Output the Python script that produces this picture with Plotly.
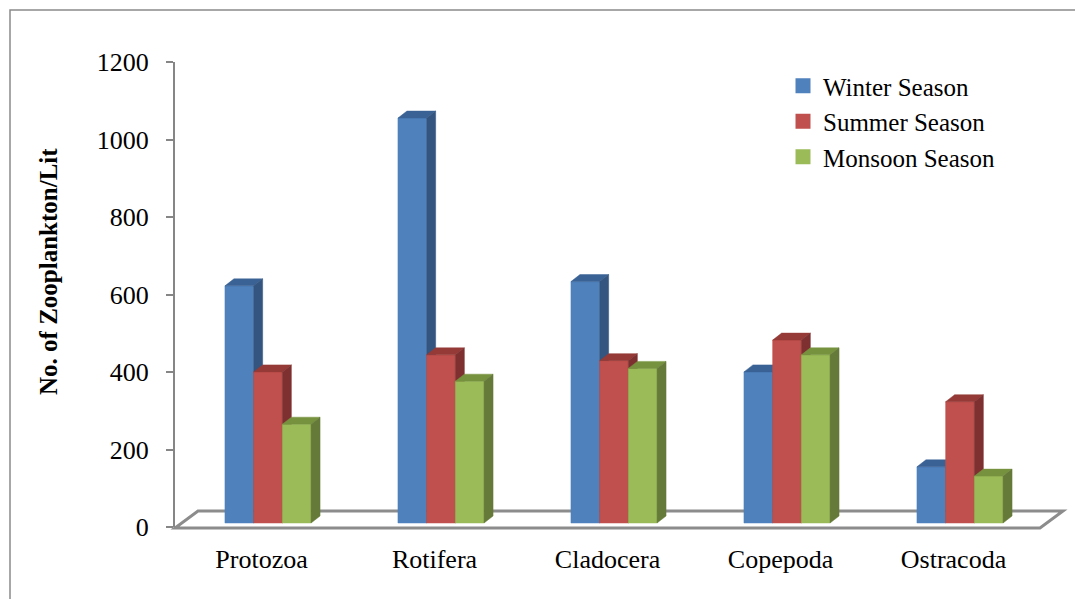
import plotly.graph_objects as go

categories = ["Protozoa", "Rotifera", "Cladocera", "Copepoda", "Ostracoda"]
series_names = ["Winter Season", "Summer Season", "Monsoon Season"]
winter = [612, 1045, 623, 390, 145]
summer = [390, 434, 419, 472, 313]
monsoon = [255, 366, 399, 434, 121]
y_ticks = [0, 200, 400, 600, 800, 1000, 1200]

series_values = [winter, summer, monsoon]
front_colors = ["#4F81BD", "#C0504D", "#9BBB59"]
top_colors = ["#3B6295", "#953A37", "#77923F"]
side_colors = ["#33557F", "#7D302F", "#657A38"]

W, H = 1075, 599
L, R, T, B = 175, 1063, 62, 527          # plot area in px
cat_px = 173.0                            # px per category
x0 = -0.5
x1 = x0 + (R - L) / cat_px
ymax = 1200
ky = (B - T) / ymax                       # px per value unit

# 3D geometry (pixels -> data units)
bar_w = 28.7 / cat_px
shift = 6.5 / cat_px
base = 4 / ky
ddx = 9 / cat_px
ddy = 7 / ky

fig = go.Figure()

for j, vals in enumerate(series_values):
    fx, fy, tx, ty, sx, sy = [], [], [], [], [], []
    for i, v in enumerate(vals):
        xl = i + shift - 1.5 * bar_w + j * bar_w
        xr = xl + bar_w
        top = base + v
        fx += [xl, xr, xr, xl, xl, None]
        fy += [base, base, top, top, base, None]
        tx += [xl, xr, xr + ddx, xl + ddx, xl, None]
        ty += [top, top, top + ddy, top + ddy, top, None]
        sx += [xr, xr, xr + ddx, xr + ddx, xr, None]
        sy += [base, top, top + ddy, base + ddy, base, None]
    for xs, ys, col in ((fx, fy, front_colors[j]), (tx, ty, top_colors[j]), (sx, sy, side_colors[j])):
        fig.add_trace(go.Scatter(x=xs, y=ys, fill="toself", fillcolor=col, mode="lines",
                                 line=dict(color=col, width=0.5), showlegend=False,
                                 hoverinfo="skip"))

for name, col in zip(series_names, front_colors):
    fig.add_trace(go.Scatter(x=[None], y=[None], mode="markers", name=name,
                             marker=dict(symbol="square", size=15, color=col)))


def px_x(p):
    return (p - L) / (R - L)


def px_y(p):
    return (B - p) / (B - T)


def dx_paper(x):
    return (x - x0) / (x1 - x0)


def dy_paper(y):
    return y / ymax


# floor parallelogram (data coords -> paper)
floor_depth_x = 23 / cat_px
floor_depth_y = 17 / ky
f_front = -1 / ky
pts = [(-0.5, f_front), (4.5, f_front), (4.5 + floor_depth_x, f_front + floor_depth_y),
       (-0.5 + floor_depth_x, f_front + floor_depth_y)]
path = "M " + " L ".join(f"{dx_paper(a):.5f},{dy_paper(b):.5f}" for a, b in pts) + " Z"

shapes = [
    dict(type="path", path=path, xref="paper", yref="paper", layer="below",
         line=dict(color="#8C8C8C", width=3), fillcolor="white"),
    dict(type="rect", xref="paper", yref="paper", x0=px_x(10), y0=px_y(10),
         x1=px_x(1090), y1=px_y(620), line=dict(color="#8A8A8A", width=1.5),
         fillcolor="rgba(0,0,0,0)"),
]

fig.update_layout(
    width=W, height=H,
    margin=dict(l=L, r=W - R, t=T, b=H - B),
    paper_bgcolor="white", plot_bgcolor="white",
    font=dict(family="Liberation Serif, Times New Roman, serif", color="black", size=26),
    xaxis=dict(range=[x0, x1], tickmode="array", tickvals=list(range(len(categories))),
               ticktext=categories, showgrid=False, zeroline=False, showline=False,
               ticks="outside", ticklen=9, tickcolor="rgba(0,0,0,0)",
               tickfont=dict(size=26)),
    yaxis=dict(range=[0, ymax], tickmode="array", tickvals=y_ticks,
               showgrid=False, zeroline=False, showline=True, linecolor="#868686",
               linewidth=2, ticks="outside", ticklen=7, tickwidth=2, tickcolor="#868686",
               ticklabelstandoff=12, tickfont=dict(size=26)),
    legend=dict(x=px_x(783), y=px_y(63), xanchor="left", yanchor="top",
                bgcolor="rgba(0,0,0,0)", font=dict(size=25), itemwidth=30,
                tracegroupgap=0),
    shapes=shapes,
    annotations=[dict(text="<b>No. of Zooplankton/Lit</b>", xref="paper", yref="paper",
                      x=px_x(48), y=px_y(271), xanchor="center", yanchor="middle",
                      textangle=-90, showarrow=False, font=dict(size=25))],
    showlegend=True,
)

fig.write_html("out.html")
